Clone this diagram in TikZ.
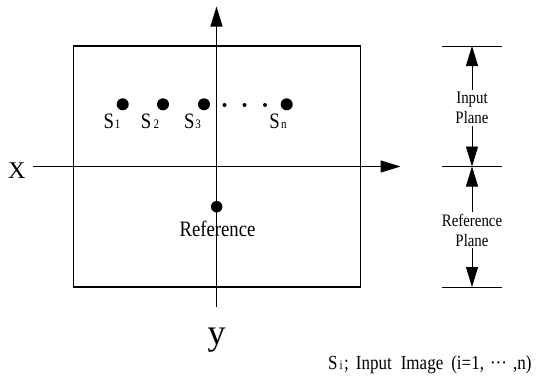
\documentclass[tikz,border=0pt]{standalone}
\usepackage{fontspec}
\setmainfont{Liberation Serif}
\newfontfamily\cf[FakeStretch=0.85]{Liberation Serif}
\usetikzlibrary{arrows.meta}
\begin{document}
\begin{tikzpicture}[x=1pt,y=-1pt,
  axisarrow/.style={line width=1.2pt,-{Triangle[length=20pt,width=12pt]}},
  dimarrow/.style={line width=0.9pt,-{Triangle[length=20pt,width=12pt]}},
  dimline/.style={line width=0.9pt},
  bigdot/.style={circle,fill=black,inner sep=0pt,minimum size=12pt},
  smalldot/.style={circle,fill=black,inner sep=0pt,minimum size=4pt},
  slabel/.style={inner sep=0pt,anchor=base,font=\cf\fontsize{22}{22}\selectfont},
  dimlabel/.style={inner sep=2pt,align=center,font=\cf\fontsize{17.5}{20}\selectfont},
]
\newcommand{\subtxt}[1]{{\fontsize{13}{13}\selectfont #1}}
\useasboundingbox (0,0) rectangle (541,376);
% frame
\draw[line width=1.8pt] (73.5,46) rectangle (360.5,287);
% axes
\coordinate (xstart) at (33,166.5);
\coordinate (xend) at (400.5,166.5);
\coordinate (ybot) at (216.5,306.5);
\coordinate (ytop) at (216.5,6.5);
\draw[axisarrow] (xstart) -- (xend);
\draw[axisarrow] (ybot) -- (ytop);
\node[anchor=base,inner sep=0pt,font=\fontsize{24}{24}\selectfont] (X) at (16.7,178.3) {X};
\node[anchor=base,inner sep=0pt,font=\fontsize{36}{36}\selectfont] (Y) at (216.7,344) {y};
% input dots
\node[bigdot] (s1) at (122.7,104.3) {};
\node[bigdot] (s2) at (163,104.3) {};
\node[bigdot] (s3) at (204,104.3) {};
\node[bigdot] (sn) at (286.7,104.3) {};
\node[smalldot] (d1) at (224.5,105) {};
\node[smalldot] (d2) at (244.5,105) {};
\node[smalldot] (d3) at (265,105) {};
\node[slabel] (l1) at (112,128.3) {S\kern1pt\subtxt{1}};
\node[slabel] (l2) at (150,128.3) {S\kern2.5pt\subtxt{2}};
\node[slabel] (l3) at (192.5,128.3) {S\kern1pt\subtxt{3}};
\node[slabel] (ln) at (278,128.3) {S\kern1.5pt\subtxt{n}};
% reference
\node[bigdot,minimum size=11.5pt] (ref) at (216.7,206.7) {};
\node[slabel] (reflbl) at (217.5,236.7) {Reference};
% dimension at right
\coordinate (ttl) at (442,46);   \coordinate (ttr) at (502,46);
\coordinate (mml) at (442,166.5); \coordinate (mmr) at (502,166.5);
\coordinate (bbl) at (442,287);  \coordinate (bbr) at (502,287);
\coordinate (tt) at (472,46);
\coordinate (mm) at (472,166.5);
\coordinate (bb) at (472,287);
\draw[dimline] (ttl) -- (ttr);
\draw[dimline] (mml) -- (mmr);
\draw[dimline] (bbl) -- (bbr);
\node[dimlabel] (inp) at (472,108) {Input\\Plane};
\node[dimlabel] (refp) at (472,230) {Reference\\Plane};
\draw[dimarrow] (inp.north) -- (tt);
\draw[dimarrow] (inp.south) -- (mm);
\draw[dimarrow] (refp.north) -- (mm);
\draw[dimarrow] (refp.south) -- (bb);
% legend
\node[anchor=base west,inner sep=0pt,font=\cf\fontsize{20}{20}\selectfont] (legend) at (328,369)
  {S\kern2pt{\fontsize{13}{13}\selectfont i}\kern1.5pt;\hspace{7pt}Input\hspace{9pt}Image\hspace{8pt}(i=1,\hspace{6pt}···\hspace{6pt},n)};
\end{tikzpicture}
\end{document}
